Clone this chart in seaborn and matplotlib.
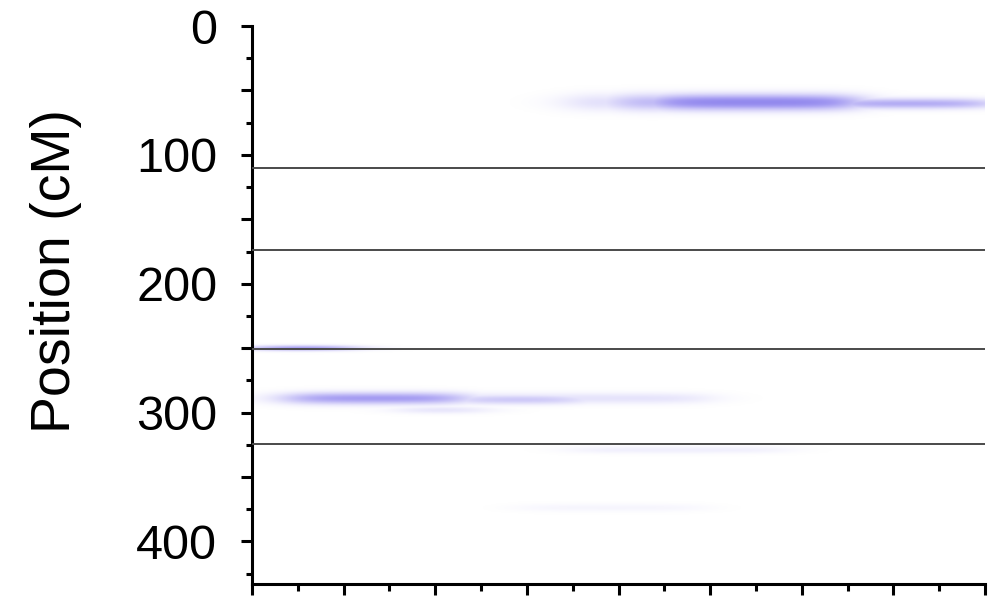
import numpy as np
import matplotlib
matplotlib.use("Agg")
import matplotlib.pyplot as plt
import seaborn as sns
from matplotlib.colors import LinearSegmentedColormap
from matplotlib.ticker import MultipleLocator, FuncFormatter

# ---- data ----
y_ticks = [0, 100, 200, 300, 400]
y_label = "Position (cM)"
boundaries_cM = [110, 173.5, 250.5, 324]          # horizontal separator lines
# smudges of QTL signal: position (cM), x start, x end, peak strength, thickness (cM)
blob_pos   = [59,   59,   59,   60,   250, 289,  289, 290, 298, 329, 374]
blob_x0    = [7.0,  7.9,  8.7,  12.6, 0.1, 0.6,  0.8, 4.4, 3.3, 7.0, 5.9]
blob_x1    = [8.3,  9.6,  13.2, 16.1, 2.1, 9.9,  4.6, 7.2, 5.0, 11.6, 9.8]
blob_peak  = [0.20, 0.40, 0.62, 0.42, 0.55, 0.14, 0.50, 0.28, 0.15, 0.08, 0.05]
blob_thick = [4.8,  4.6,  4.3,  2.8,  1.4, 3.0,  3.2, 2.6, 2.0, 2.0, 2.2]

x_max = 16
y_max = 433

sns.set_style("ticks")
plt.rcParams['font.family'] = ['Liberation Sans', 'DejaVu Sans']

fig = plt.figure(figsize=(9.9, 5.99), dpi=100)
ax = fig.add_axes([252/990, 1-584/599, (985-252)/990, (584-26)/599])

# build the intensity raster from the smudge list
gx = np.linspace(0, x_max, 900)
gy = np.linspace(0, y_max, 900)
X, Y = np.meshgrid(gx, gy)
Z = np.zeros_like(X)
for p, a, b, pk, th in zip(blob_pos, blob_x0, blob_x1, blob_peak, blob_thick):
    soft = 0.35
    wx = 1/(1+np.exp(-(X-a)/soft)) * 1/(1+np.exp((X-b)/soft))
    wy = np.exp(-0.5*((Y-p)/th)**2)
    Z = np.maximum(Z, pk*wx*wy)
Z = np.clip(Z, 0, 1)

cmap = LinearSegmentedColormap.from_list("wb", ["#ffffff", "#a49bf2", "#5a4ee0"])
ax.imshow(Z, extent=[0, x_max, y_max, 0], aspect='auto', cmap=cmap,
          vmin=0, vmax=1, interpolation='bilinear', zorder=1)

for b in boundaries_cM:
    ax.axhline(b, color="#4a4a4a", lw=1.4, zorder=3)

ax.set_xlim(0, x_max)
ax.set_ylim(y_max, 0)

ax.yaxis.set_major_locator(MultipleLocator(50))
ax.yaxis.set_minor_locator(MultipleLocator(25))
ax.yaxis.set_major_formatter(FuncFormatter(lambda v, pos: f"{int(v)}" if int(round(v)) in y_ticks else ""))
ax.xaxis.set_major_locator(MultipleLocator(2))
ax.xaxis.set_minor_locator(MultipleLocator(1))
ax.set_xticklabels([])

ax.tick_params(axis='y', which='major', length=8, width=2.2, direction='out',
               labelsize=35, pad=17, colors='black')
ax.tick_params(axis='y', which='minor', length=4, width=2.2, direction='out', colors='black')
ax.tick_params(axis='x', which='major', length=8, width=2.2, direction='out',
               labelbottom=False, colors='black')
ax.tick_params(axis='x', which='minor', length=5, width=2.2, direction='out', colors='black')

for s in ['top', 'right']:
    ax.spines[s].set_visible(False)
for s in ['left', 'bottom']:
    ax.spines[s].set_linewidth(2.2)
    ax.spines[s].set_color('black')

ax.set_ylabel(y_label, fontsize=40, color='black')
ax.yaxis.set_label_coords(-0.232, 0.561)

fig.savefig("out.png", dpi=100, facecolor="white")
